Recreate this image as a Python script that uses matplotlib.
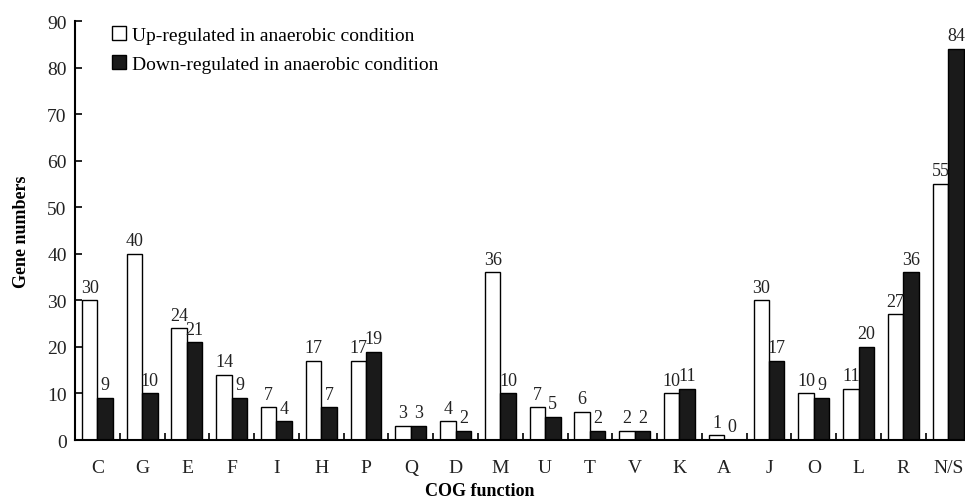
import matplotlib
matplotlib.use("Agg")
import matplotlib.pyplot as plt
import numpy as np

categories = ["C", "G", "E", "F", "I", "H", "P", "Q", "D", "M", "U", "T", "V", "K", "A", "J", "O", "L", "R", "N/S"]
up_values = [30, 40, 24, 14, 7, 17, 17, 3, 4, 36, 7, 6, 2, 10, 1, 30, 10, 11, 27, 55]
down_values = [9, 10, 21, 9, 4, 7, 19, 3, 2, 10, 5, 2, 2, 11, 0, 17, 9, 20, 36, 84]
y_ticks = [0, 10, 20, 30, 40, 50, 60, 70, 80, 90]

plt.rcParams['font.family'] = ['Liberation Serif', 'DejaVu Serif']

fig = plt.figure(figsize=(9.65, 5.02), dpi=100)
ax = fig.add_axes([0.0777, 0.1215, 0.928, 0.8345])

x = np.arange(len(categories))
w = 0.345
ax.bar(x - w / 2, up_values, w, color="white", edgecolor="black", linewidth=1.0,
       label="Up-regulated in anaerobic condition")
ax.bar(x + w / 2, down_values, w, color="#1a1a1a", edgecolor="black", linewidth=1.0,
       label="Down-regulated in anaerobic condition")

for xi, v in zip(x - w / 2, up_values):
    ax.text(xi, v + 1.0, str(v), ha="center", va="bottom", fontsize=13, color="#222222")
for xi, v in zip(x + w / 2, down_values):
    ax.text(xi, v + 1.0, str(v), ha="center", va="bottom", fontsize=13, color="#222222")

ax.set_xlim(-0.5, len(categories) - 0.5)
ax.set_ylim(0, 90)
ax.set_yticks(y_ticks)
ax.set_xticks(x)
ax.set_xticklabels(categories, fontsize=14)
ax.set_xticks(np.arange(len(categories) + 1) - 0.5, minor=True)
ax.tick_params(axis="x", which="major", length=0, pad=14, labelcolor="#222222")
ax.tick_params(axis="x", which="minor", direction="in", length=5, width=1.2)
ax.tick_params(axis="y", direction="in", length=5, width=1.2, labelsize=14, pad=6, labelcolor="#222222")

for s in ["top", "right"]:
    ax.spines[s].set_visible(False)
for s in ["left", "bottom"]:
    ax.spines[s].set_linewidth(1.5)

ax.set_ylabel("Gene numbers", fontsize=13, fontweight="bold", labelpad=12)
fig.text(0.497, 0.004, "COG function", ha="center", va="bottom", fontsize=13, fontweight="bold")

ax.legend(loc="upper left", bbox_to_anchor=(0.022, 1.03), frameon=False, fontsize=14,
          handlelength=0.7, handleheight=0.7, handletextpad=0.3, labelspacing=0.6)

fig.savefig("out.png", dpi=100)
